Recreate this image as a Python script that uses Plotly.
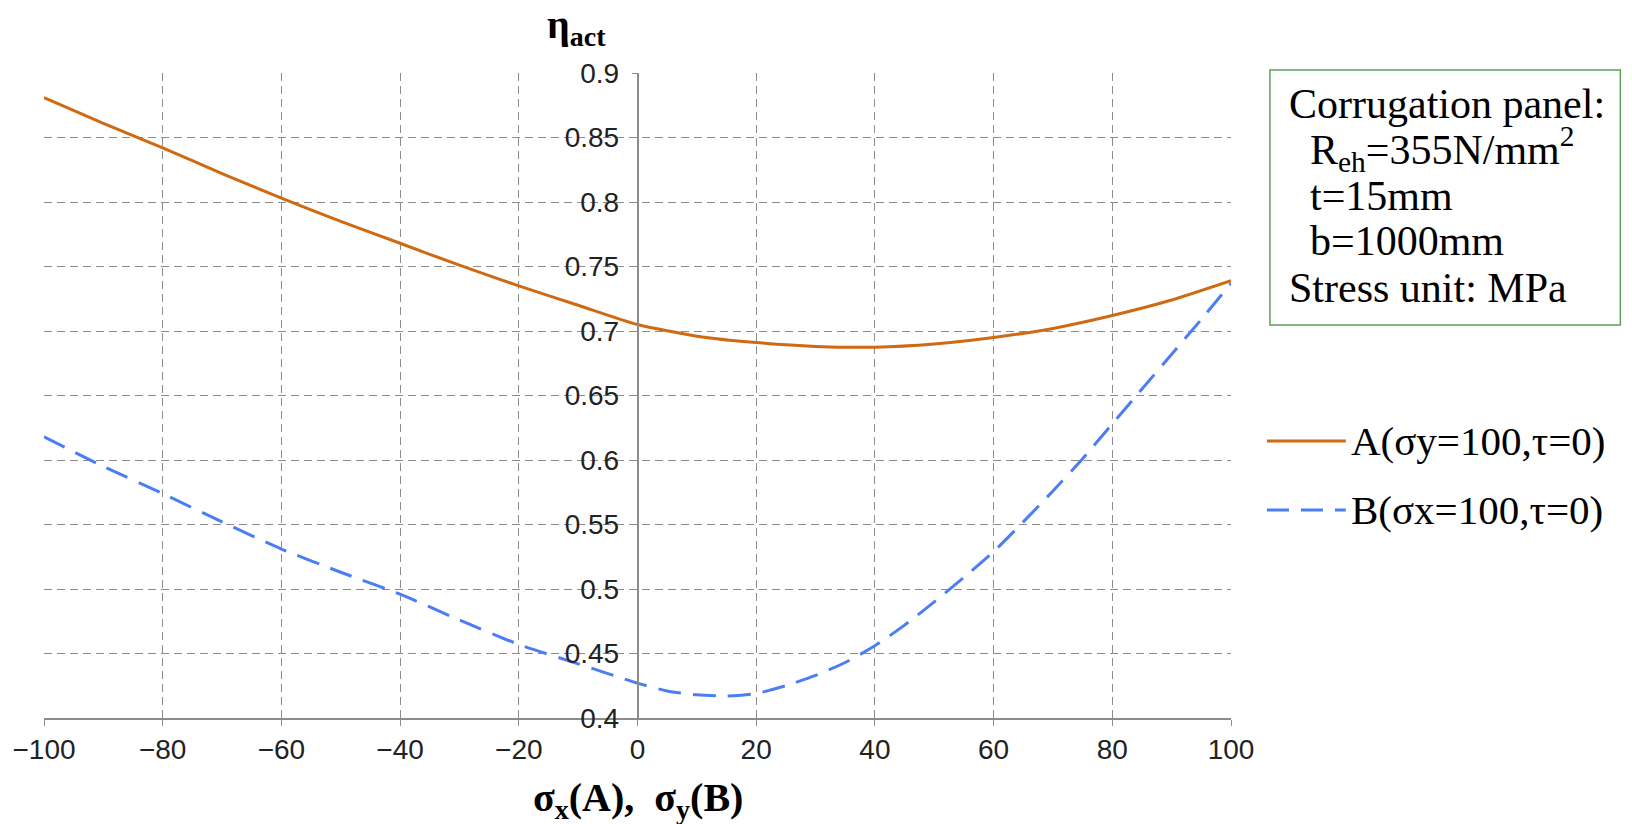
import plotly.graph_objects as go

# ---------------- data ----------------
x_a = [-100, -90, -80, -70, -60, -50, -40, -30, -20, -10, 0, 10, 20, 30, 40, 50, 60, 70, 80, 90, 100]
eta_a = [0.881, 0.861, 0.842, 0.822, 0.803, 0.785, 0.768, 0.751, 0.735, 0.720, 0.705,
         0.696, 0.691, 0.688, 0.6875, 0.690, 0.695, 0.702, 0.712, 0.724, 0.739]

x_b = [-100, -90, -80, -70, -60, -50, -40, -30, -20, -10, 0, 5, 10, 15, 20, 25, 30, 35, 40,
       45, 50, 55, 60, 65, 70, 75, 80, 85, 90, 95, 100]
eta_b = [0.618, 0.595, 0.574, 0.552, 0.531, 0.513, 0.496, 0.476, 0.457, 0.442, 0.427, 0.421,
         0.418, 0.417, 0.419, 0.425, 0.433, 0.443, 0.456, 0.472, 0.490, 0.509, 0.529, 0.552,
         0.576, 0.601, 0.628, 0.655, 0.682, 0.709, 0.737]

series_names = ["A(σy=100,τ=0)", "B(σx=100,τ=0)"]
x_ticks = [-100, -80, -60, -40, -20, 0, 20, 40, 60, 80, 100]
y_ticks = [0.4, 0.45, 0.5, 0.55, 0.6, 0.65, 0.7, 0.75, 0.8, 0.85, 0.9]
y_tick_text = ["0.4", "0.45", "0.5", "0.55", "0.6", "0.65", "0.7", "0.75", "0.8", "0.85", "0.9"]
x_tick_text = ["\u2212100", "\u221280", "\u221260", "\u221240", "\u221220", "0", "20", "40", "60", "80", "100"]
info_lines = ["Corrugation panel:", "R<sub>eh</sub>=355N/mm<sup>2</sup>", "t=15mm", "b=1000mm",
              "Stress unit: MPa"]

ORANGE = "#CF6A12"
BLUE = "#4C7EF3"
GRID = "#8C8C8C"
SERIF = "Liberation Serif, Times New Roman, serif"
TICKFONT = "Liberation Sans Narrow, Liberation Sans, Arial, sans-serif"

# ---------------- layout geometry (pixels) ----------------
W, H = 1632, 824
L, R, T, B = 42, 1231, 73, 718
PW, PH = R - L, B - T


def px(x):
    return (x - L) / PW


def py(y):
    return (B - y) / PH


fig = go.Figure()
fig.add_trace(go.Scatter(x=x_a, y=eta_a, mode="lines", name=series_names[0],
                         line=dict(color=ORANGE, width=3, shape="spline", smoothing=0.6),
                         showlegend=False))
fig.add_trace(go.Scatter(x=x_b, y=eta_b, mode="lines", name=series_names[1],
                         line=dict(color=BLUE, width=3, dash="23px,12px", shape="spline", smoothing=0.6),
                         showlegend=False))

fig.update_layout(
    width=W, height=H,
    margin=dict(l=L, r=W - R, t=T, b=H - B),
    paper_bgcolor="white", plot_bgcolor="white",
    xaxis=dict(range=[-100, 100], tickvals=x_ticks, ticktext=x_tick_text,
               showgrid=True, gridcolor=GRID, gridwidth=1.3, griddash="8px,5px",
               showline=True, linecolor=GRID, linewidth=1.5,
               ticks="outside", ticklen=6, tickcolor=GRID, tickwidth=1.3,
               zeroline=False, ticklabelstandoff=0,
               tickfont=dict(family=TICKFONT, size=28, color="#222")),
    yaxis=dict(range=[0.4, 0.9], tickvals=y_ticks, ticktext=y_tick_text,
               anchor="free", position=0.5,
               showgrid=True, gridcolor=GRID, gridwidth=1.3, griddash="8px,5px",
               showline=True, linecolor=GRID, linewidth=1.5,
               ticks="outside", ticklen=5, tickcolor=GRID, tickwidth=1.3,
               zeroline=False, ticklabelstandoff=7,
               tickfont=dict(family=TICKFONT, size=28, color="#222")),
)

# axis titles
fig.add_annotation(x=px(575), y=py(27), xref="paper", yref="paper", showarrow=False,
                   xanchor="center", yanchor="middle",
                   text="<b>η<sub>act</sub></b>", font=dict(family=SERIF, size=40, color="black"))
fig.add_annotation(x=px(637), y=py(800), xref="paper", yref="paper", showarrow=False,
                   xanchor="center", yanchor="middle",
                   text="<b>σ<sub>x</sub>(A),  σ<sub>y</sub>(B)</b>",
                   font=dict(family=SERIF, size=40, color="black"))

# info box
fig.add_shape(type="rect", xref="paper", yref="paper",
              x0=px(1270), x1=px(1621), y0=py(325), y1=py(70),
              line=dict(color="#5DA05A", width=1.5), fillcolor="white")
line_y = [104, 149, 196, 241, 288]
line_x = [1287, 1308, 1308, 1308, 1287]
for txt, yy, xx in zip(info_lines, line_y, line_x):
    fig.add_annotation(x=px(xx), y=py(yy), xref="paper", yref="paper", showarrow=False,
                       xanchor="left", yanchor="middle", text=txt,
                       font=dict(family=SERIF, size=42, color="black"))

# legend (drawn manually to reproduce long sample lines)
leg_y = [441, 510]
leg_styles = [dict(color=ORANGE, width=3), dict(color=BLUE, width=3, dash="22px,12px")]
for name, yy, st in zip(series_names, leg_y, leg_styles):
    fig.add_shape(type="line", xref="paper", yref="paper",
                  x0=px(1267), x1=px(1346), y0=py(yy), y1=py(yy), line=st)
    fig.add_annotation(x=px(1349), y=py(yy), xref="paper", yref="paper", showarrow=False,
                       xanchor="left", yanchor="middle", text=name,
                       font=dict(family=SERIF, size=41, color="black"))

fig.write_html("out.html")
